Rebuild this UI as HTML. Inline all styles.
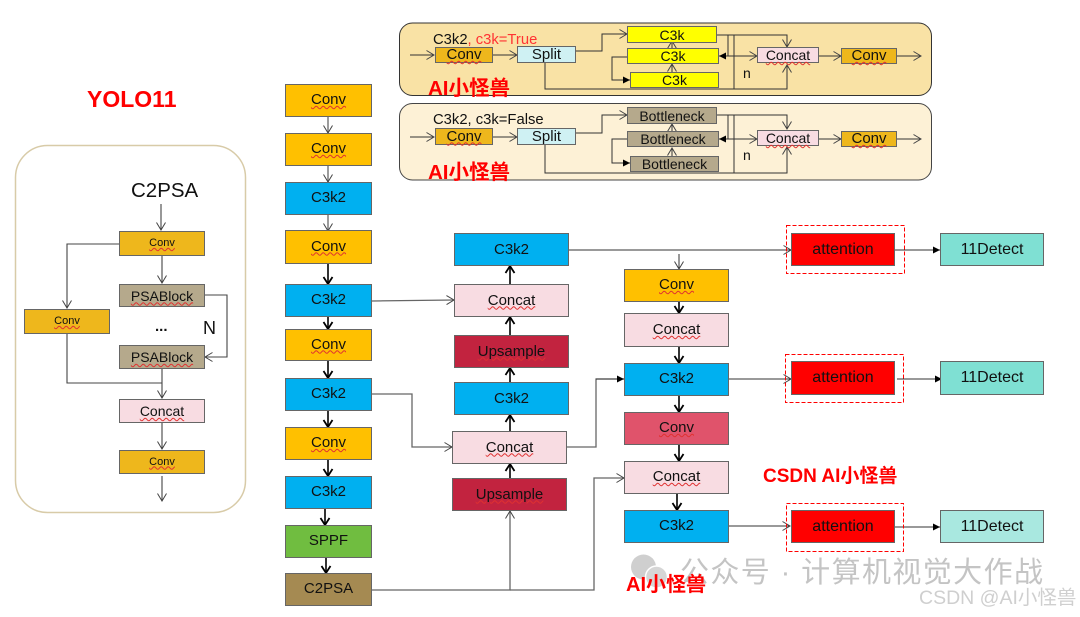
<!DOCTYPE html>
<html><head><meta charset="utf-8">
<style>
html,body{margin:0;padding:0;background:#fff}
#p{position:relative;width:1080px;height:617px;overflow:hidden;font-family:"Liberation Sans","Noto Sans CJK SC",sans-serif;color:#111;filter:blur(.35px)}
.b{position:absolute;box-sizing:border-box;border:1px solid #666;display:flex;align-items:center;justify-content:center;font-size:15px;line-height:1;white-space:nowrap;padding-bottom:2px}
.p0{padding-bottom:0}.p1{padding-bottom:1px}
.w{text-decoration:underline wavy #e03030 1px;text-underline-offset:1px}
.t{position:absolute;white-space:nowrap;line-height:1}
.r{color:#f00;font-weight:bold}
svg{position:absolute;left:0;top:0}
.yl{background:#ff0}.go{background:#eeb71c}.sp{background:#cff1f3}.pk{background:#f8dce2}.br{background:#b5a98c}
.cg{background:#ffc000}.cb{background:#00b0f0}.dr{background:#c2233f}.at{background:#f00}.dt{background:#7fe0d3}
</style></head><body><div id="p">
<svg width="1080" height="617" viewBox="0 0 1080 617" fill="none">
<defs>
<marker id="o" markerUnits="userSpaceOnUse" markerWidth="12" markerHeight="12" refX="9" refY="6" orient="auto"><path d="M1.5 1.5L9 6L1.5 10.5" fill="none" stroke="#444" stroke-width="1"/></marker>
<marker id="k" markerUnits="userSpaceOnUse" markerWidth="12" markerHeight="12" refX="9" refY="6" orient="auto"><path d="M2 1.5L9 6L2 10.5" fill="none" stroke="#000" stroke-width="1.8"/></marker>
<marker id="f" markerUnits="userSpaceOnUse" markerWidth="10" markerHeight="10" refX="7" refY="4" orient="auto"><path d="M0 .5L7 4L0 7.5Z" fill="#000"/></marker>
</defs>
<rect x="399.5" y="23" width="532" height="72.5" rx="13" fill="#f9e2a5" stroke="#333"/>
<rect x="399.5" y="103.5" width="532" height="76.5" rx="13" fill="#fdf1d6" stroke="#444"/>
<rect x="15.5" y="145.5" width="230" height="367" rx="32" fill="#fff" stroke="#d8cba8" stroke-width="1.5"/>

<g stroke="#333" stroke-width="1">
<path d="M410 55H434" marker-end="url(#o)"/><path d="M493 55H517" marker-end="url(#o)"/>
<path d="M576 51H602V34H627" marker-end="url(#o)"/>
<path d="M717 35H787V47" marker-end="url(#o)"/>
<path d="M627 57H612V80H630" marker-end="url(#f)"/>
<path d="M545 63V89H787V65" marker-end="url(#o)"/>
<path d="M728 35V56M734 35V89"/>
<path d="M734 56H719" marker-end="url(#f)"/>
<path d="M734 56H757" marker-end="url(#o)"/>
<path d="M672 48V41" marker-end="url(#o)"/><path d="M672 72V64" marker-end="url(#o)"/>
<path d="M819 56H841" marker-end="url(#o)"/><path d="M897 56H921" marker-end="url(#o)"/>

<path d="M410 137H434" marker-end="url(#o)"/><path d="M493 137H517" marker-end="url(#o)"/>
<path d="M576 133H602V115H627" marker-end="url(#o)"/>
<path d="M717 115H787V129" marker-end="url(#o)"/>
<path d="M627 139H612V163H630" marker-end="url(#f)"/>
<path d="M545 145V173H787V147" marker-end="url(#o)"/>
<path d="M728 115V139M734 115V173"/>
<path d="M734 139H719" marker-end="url(#f)"/>
<path d="M734 139H757" marker-end="url(#o)"/>
<path d="M672 131V124" marker-end="url(#o)"/><path d="M672 156V148" marker-end="url(#o)"/>
<path d="M819 139H841" marker-end="url(#o)"/><path d="M897 139H921" marker-end="url(#o)"/>
</g>

<g stroke="#444" stroke-width="1.1">
<path d="M161 204V230" marker-end="url(#o)"/>
<path d="M162 256V283" marker-end="url(#o)"/>
<path d="M119 244H67V308" marker-end="url(#o)"/>
<path d="M205 295H227V357H205" marker-end="url(#o)"/>
<path d="M67 333V383H162"/>
<path d="M162 369V398" marker-end="url(#o)"/>
<path d="M162 423V449" marker-end="url(#o)"/>
<path d="M162 476V501" marker-end="url(#o)"/>
</g>

<g stroke="#666" stroke-width="1.3">
<path d="M328 117V133" marker-end="url(#o)"/>
<path d="M328 166V182" marker-end="url(#o)"/>
<path d="M328 215V231" marker-end="url(#o)"/>
<path d="M372 301L454 300" marker-end="url(#o)"/>
<path d="M372 394H412V447H452" marker-end="url(#o)"/>
<path d="M372 590H510V511" marker-end="url(#o)"/>
<path d="M510 590H594V478H624" marker-end="url(#o)"/>
<path d="M567 447H596V379H624"/>
</g>
<path d="M596 379H624" stroke="#333" marker-end="url(#f)"/>

<g stroke="#000" stroke-width="1.6">
<path d="M328 264V284" marker-end="url(#k)"/>
<path d="M328 317V329" marker-end="url(#k)"/>
<path d="M328 361V378" marker-end="url(#k)"/>
<path d="M328 411V427" marker-end="url(#k)"/>
<path d="M328 460V476" marker-end="url(#k)"/>
<path d="M325 509V525" marker-end="url(#k)"/>
<path d="M326 558V573" marker-end="url(#k)"/>
<path d="M510 284V266" marker-end="url(#k)"/>
<path d="M510 335V317" marker-end="url(#k)"/>
<path d="M510 382V368" marker-end="url(#k)"/>
<path d="M510 431V415" marker-end="url(#k)"/>
<path d="M510 478V464" marker-end="url(#k)"/>
<path d="M679 302V313" marker-end="url(#k)"/>
<path d="M679 347V363" marker-end="url(#k)"/>
<path d="M679 396V412" marker-end="url(#k)"/>
<path d="M679 445V461" marker-end="url(#k)"/>
<path d="M677 494V510" marker-end="url(#k)"/>
</g>
<g stroke="#333" stroke-width="1">
<path d="M569 250H791" marker-end="url(#o)"/>
<path d="M679 254V269" marker-end="url(#o)"/>
<path d="M729 379H791" marker-end="url(#o)"/>
<path d="M728 526H790" marker-end="url(#o)"/>
<path d="M895 250H940" marker-end="url(#f)"/>
<path d="M897 379H942" marker-end="url(#f)"/>
<path d="M895 527H940" marker-end="url(#f)"/>
</g>
<g stroke="#f00" stroke-width="1" stroke-dasharray="4 2">
<rect x="786.5" y="225.5" width="118" height="48"/>
<rect x="785.5" y="354.5" width="118" height="48"/>
<rect x="786.5" y="503.5" width="117" height="48"/>
</g>
<circle cx="643.5" cy="567" r="12.5" fill="#cfcfcf"/>
<circle cx="656.5" cy="577" r="11" fill="#d6d6d6" stroke="#fff" stroke-width="1.5"/>
</svg>

<div class="t" style="left:433px;top:33px;font-size:14.8px">C3k2<span style="color:#f33">, c3k=True</span></div>
<div class="t" style="left:433px;top:113px;font-size:14.8px">C3k2, c3k=False</div>

<div class="b go p1" style="left:435px;top:47px;width:58px;height:16px"><span class="w">Conv</span></div>
<div class="b sp p1" style="left:517px;top:46px;width:59px;height:17px">Split</div>
<div class="b yl p0" style="left:627px;top:26px;width:90px;height:17px;font-size:14px">C3k</div>
<div class="b yl p0" style="left:627px;top:48px;width:92px;height:16px;font-size:14px">C3k</div>
<div class="b yl p0" style="left:630px;top:72px;width:89px;height:16px;font-size:14px">C3k</div>
<div class="b pk p0" style="left:757px;top:47px;width:62px;height:16px;font-size:14px"><span class="w">Concat</span></div>
<div class="b go p1" style="left:841px;top:48px;width:56px;height:16px"><span class="w">Conv</span></div>
<div class="t" style="left:743px;top:66px;font-size:14px">n</div>
<div class="t r" style="left:428px;top:79px;font-size:20.5px">AI小怪兽</div>

<div class="b go p1" style="left:435px;top:128px;width:58px;height:17px"><span class="w">Conv</span></div>
<div class="b sp p1" style="left:517px;top:128px;width:59px;height:17px">Split</div>
<div class="b br p0" style="left:627px;top:107px;width:90px;height:17px;font-size:14px">Bottleneck</div>
<div class="b br p0" style="left:627px;top:131px;width:92px;height:16px;font-size:14px">Bottleneck</div>
<div class="b br p0" style="left:630px;top:156px;width:89px;height:16px;font-size:14px">Bottleneck</div>
<div class="b pk p0" style="left:757px;top:130px;width:62px;height:16px;font-size:14px"><span class="w">Concat</span></div>
<div class="b go p1" style="left:841px;top:131px;width:56px;height:16px"><span class="w">Conv</span></div>
<div class="t" style="left:743px;top:148px;font-size:14px">n</div>
<div class="t r" style="left:428px;top:163px;font-size:20.5px">AI小怪兽</div>

<div class="t" style="left:87px;top:88px;font-size:23px;font-weight:bold;color:#f00">YOLO11</div>
<div class="t" style="left:131px;top:181px;font-size:20.5px;color:#111">C2PSA</div>
<div class="b go p0" style="left:119px;top:231px;width:86px;height:25px;font-size:11px"><span class="w">Conv</span></div>
<div class="b br p0" style="left:119px;top:284px;width:86px;height:23px;font-size:14px"><span class="w">PSABlock</span></div>
<div class="b go p0" style="left:24px;top:309px;width:86px;height:25px;font-size:11px"><span class="w">Conv</span></div>
<div class="t" style="left:155px;top:319px;font-size:15px;font-weight:bold">...</div>
<div class="t" style="left:203px;top:319px;font-size:18px">N</div>
<div class="b br p0" style="left:119px;top:345px;width:86px;height:24px;font-size:14px"><span class="w">PSABlock</span></div>
<div class="b pk p0" style="left:119px;top:399px;width:86px;height:24px;font-size:14px"><span class="w">Concat</span></div>
<div class="b go p0" style="left:119px;top:450px;width:86px;height:24px;font-size:11px"><span class="w">Conv</span></div>

<div class="b cg" style="left:285px;top:84px;width:87px;height:33px"><span class="w">Conv</span></div>
<div class="b cg" style="left:285px;top:133px;width:87px;height:33px"><span class="w">Conv</span></div>
<div class="b cb" style="left:285px;top:182px;width:87px;height:33px">C3k2</div>
<div class="b cg" style="left:285px;top:230px;width:87px;height:34px"><span class="w">Conv</span></div>
<div class="b cb" style="left:285px;top:284px;width:87px;height:33px">C3k2</div>
<div class="b cg" style="left:285px;top:329px;width:87px;height:32px"><span class="w">Conv</span></div>
<div class="b cb" style="left:285px;top:378px;width:87px;height:33px">C3k2</div>
<div class="b cg" style="left:285px;top:427px;width:87px;height:33px"><span class="w">Conv</span></div>
<div class="b cb" style="left:285px;top:476px;width:87px;height:33px">C3k2</div>
<div class="b" style="left:285px;top:525px;width:87px;height:33px;background:#70bd40">SPPF</div>
<div class="b" style="left:285px;top:573px;width:87px;height:33px;background:#a58a52">C2PSA</div>

<div class="b cb p1" style="left:454px;top:233px;width:115px;height:33px">C3k2</div>
<div class="b pk p1" style="left:454px;top:284px;width:115px;height:33px"><span class="w">Concat</span></div>
<div class="b dr p1" style="left:454px;top:335px;width:115px;height:33px"><span class="w">Upsample</span></div>
<div class="b cb p1" style="left:454px;top:382px;width:115px;height:33px">C3k2</div>
<div class="b pk p1" style="left:452px;top:431px;width:115px;height:33px"><span class="w">Concat</span></div>
<div class="b dr p1" style="left:452px;top:478px;width:115px;height:33px"><span class="w">Upsample</span></div>

<div class="b cg" style="left:624px;top:269px;width:105px;height:33px"><span class="w">Conv</span></div>
<div class="b pk p1" style="left:624px;top:313px;width:105px;height:34px"><span class="w">Concat</span></div>
<div class="b cb" style="left:624px;top:363px;width:105px;height:33px">C3k2</div>
<div class="b" style="left:624px;top:412px;width:105px;height:33px;background:#e0536b"><span class="w">Conv</span></div>
<div class="b pk" style="left:624px;top:461px;width:105px;height:33px"><span class="w">Concat</span></div>
<div class="b cb" style="left:624px;top:510px;width:105px;height:33px">C3k2</div>

<div class="b at p0" style="left:791px;top:233px;width:104px;height:33px;font-size:16px">attention</div>
<div class="b at p0" style="left:791px;top:361px;width:104px;height:34px;font-size:16px">attention</div>
<div class="b at p0" style="left:791px;top:510px;width:104px;height:33px;font-size:16px">attention</div>
<div class="b dt p0" style="left:940px;top:233px;width:104px;height:33px;font-size:16px">11Detect</div>
<div class="b dt p0" style="left:940px;top:361px;width:104px;height:34px;font-size:16px">11Detect</div>
<div class="b p0" style="left:940px;top:510px;width:104px;height:33px;background:#a9e8e0;font-size:16px">11Detect</div>

<div class="t r" style="left:763px;top:467px;font-size:19px">CSDN AI小怪兽</div>
<div class="t" style="left:680px;top:559px;font-size:29px;color:#c4c4c4;letter-spacing:1.4px">公众号 · 计算机视觉大作战</div>
<div class="t r" style="left:626px;top:575px;font-size:20px">AI小怪兽</div>
<div class="t" style="left:919px;top:589px;font-size:19.5px;color:#cfcfcf">CSDN @AI小怪兽</div>
</div></body></html>
